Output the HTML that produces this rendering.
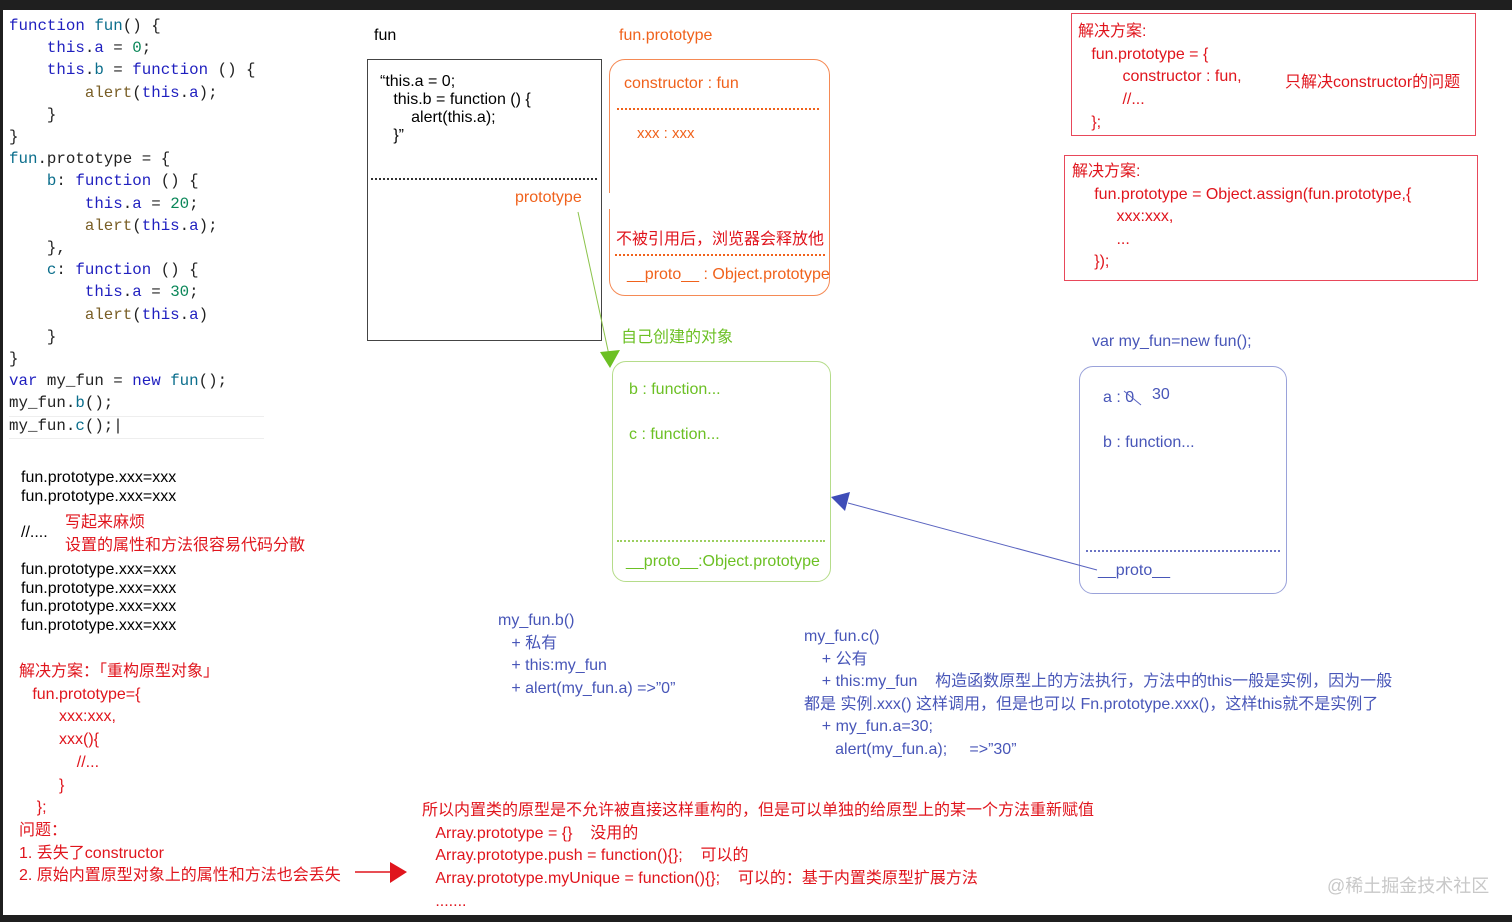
<!DOCTYPE html>
<html><head><meta charset="utf-8"><style>
body{margin:0;width:1512px;height:922px;background:#fff;position:relative;overflow:hidden;font-family:"Liberation Sans","Noto Sans CJK SC",sans-serif;font-size:16px;}
.t{position:absolute;white-space:pre;line-height:18px;}
.code{position:absolute;left:9px;top:15px;font-family:"Liberation Mono",monospace;font-size:15.8px;line-height:22.2px;white-space:pre;color:#222;}
.k{color:#1f1fbf}.f{color:#0b6e8c}.n{color:#098658}.a{color:#795e26}
.red{color:#e0151d}.or{color:#f0621c}.gr{color:#6cc024}.bl{color:#4856b8}
.box{position:absolute;box-sizing:border-box;}
</style></head><body>
<div style="position:absolute;left:0;top:0;width:1512px;height:10px;background:#1f1f1f"></div>
<div style="position:absolute;left:0;top:915px;width:1512px;height:7px;background:#1f1f1f"></div>
<div style="position:absolute;left:0;top:0;width:3px;height:922px;background:#1f1f1f"></div>

<div class="code"><span class="k">function</span> <span class="f">fun</span>() {
    <span class="k">this</span>.<span class="k">a</span> = <span class="n">0</span>;
    <span class="k">this</span>.<span class="f">b</span> = <span class="k">function</span> () {
        <span class="a">alert</span>(<span class="k">this</span>.<span class="k">a</span>);
    }
}
<span class="f">fun</span>.prototype = {
    <span class="f">b</span>: <span class="k">function</span> () {
        <span class="k">this</span>.<span class="k">a</span> = <span class="n">20</span>;
        <span class="a">alert</span>(<span class="k">this</span>.<span class="k">a</span>);
    },
    <span class="f">c</span>: <span class="k">function</span> () {
        <span class="k">this</span>.<span class="k">a</span> = <span class="n">30</span>;
        <span class="a">alert</span>(<span class="k">this</span>.<span class="k">a</span>)
    }
}
<span class="k">var</span> my_fun = <span class="k">new</span> <span class="f">fun</span>();
my_fun.<span class="f">b</span>();
my_fun.<span class="f">c</span>();|</div>
<div style="position:absolute;left:9px;top:416px;width:255px;height:21px;border-top:1px solid #eee;border-bottom:1px solid #eee"></div>

<!-- fun box -->
<div class="t" style="left:374px;top:27px">fun</div>
<div class="box" style="left:367px;top:59px;width:235px;height:282px;border:1px solid #444"></div>
<div style="position:absolute;left:371px;top:178px;width:226px;border-top:2px dotted #333"></div>
<div class="t" style="left:380px;top:73px">“this.a = 0;
   this.b = function () {
       alert(this.a);
   }”</div>
<div class="t or" style="left:515px;top:189px;background:#fff">prototype</div>

<!-- fun.prototype box -->
<div class="t or" style="left:619px;top:27px">fun.prototype</div>
<div class="box" style="left:609px;top:59px;width:221px;height:237px;border:1px solid #f58a55;border-radius:16px"></div>
<div style="position:absolute;left:603px;top:193px;width:12px;height:16px;background:#fff"></div>
<div class="t or" style="left:624px;top:75px">constructor : fun</div>
<div style="position:absolute;left:617px;top:108px;width:202px;border-top:2px dotted #f0621c"></div>
<div class="t or" style="left:637px;top:125px;font-size:15px">xxx : xxx</div>
<div class="t red" style="left:616px;top:231px">不被引用后，浏览器会释放他</div>
<div style="position:absolute;left:615px;top:254px;width:210px;border-top:2px dotted #f0621c"></div>
<div class="t or" style="left:627px;top:266px;font-size:16px">__proto__ : Object.prototype</div>

<!-- green -->
<div class="t gr" style="left:621px;top:329px">自己创建的对象</div>
<div class="box" style="left:612px;top:361px;width:219px;height:221px;border:1px solid #b5dc8a;border-radius:14px"></div>
<div class="t gr" style="left:629px;top:381px">b : function...</div>
<div class="t gr" style="left:629px;top:426px">c : function...</div>
<div style="position:absolute;left:617px;top:540px;width:208px;border-top:2px dotted #9ccf60"></div>
<div class="t gr" style="left:626px;top:553px">__proto__:Object.prototype</div>

<!-- blue instance -->
<div class="t bl" style="left:1092px;top:333px">var my_fun=new fun();</div>
<div class="box" style="left:1079px;top:366px;width:208px;height:228px;border:1px solid #9aa2da;border-radius:14px"></div>
<div class="t bl" style="left:1103px;top:389px">a : 0</div>
<div class="t bl" style="left:1152px;top:386px">30</div>
<div class="t bl" style="left:1103px;top:434px">b : function...</div>
<div style="position:absolute;left:1086px;top:550px;width:194px;border-top:2px dotted #6b74c4"></div>
<div class="t bl" style="left:1098px;top:562px">__proto__</div>

<svg style="position:absolute;left:0;top:0" width="1512" height="922">
 <line x1="578" y1="212" x2="609" y2="355" stroke="#8bc34a" stroke-width="1"/>
 <polygon points="600,352 620,350 610,368" fill="#6cc024"/>
 <line x1="1097" y1="570" x2="848" y2="503" stroke="#5a64c0" stroke-width="1"/>
 <polygon points="831,497 850,492 845,511" fill="#3f4db8"/>
 <line x1="1124" y1="391" x2="1141" y2="405" stroke="#5a64c0" stroke-width="1"/>
 <line x1="355" y1="872" x2="392" y2="872" stroke="#e0151d" stroke-width="1.5"/>
 <polygon points="390,862 407,872 390,883" fill="#e0151d"/>
</svg>

<!-- right red boxes -->
<div class="box" style="left:1071px;top:13px;width:405px;height:123px;border:1px solid #e8485a"></div>
<div class="t red" style="left:1078px;top:21px;line-height:22.7px">解决方案:
   fun.prototype = {
          constructor : fun,
          //...
   };</div>
<div class="t red" style="left:1285px;top:74px">只解决constructor的问题</div>
<div class="box" style="left:1064px;top:155px;width:414px;height:126px;border:1px solid #e8485a"></div>
<div class="t red" style="left:1072px;top:161px;line-height:22.5px">解决方案:
     fun.prototype = Object.assign(fun.prototype,{
          xxx:xxx,
          ...
     });</div>

<!-- left bottom -->
<div class="t" style="left:21px;top:468px;line-height:19px">fun.prototype.xxx=xxx
fun.prototype.xxx=xxx</div>
<div class="t" style="left:21px;top:524px">//....</div>
<div class="t red" style="left:65px;top:511px;line-height:23px">写起来麻烦
设置的属性和方法很容易代码分散</div>
<div class="t" style="left:21px;top:561px;line-height:18.7px">fun.prototype.xxx=xxx
fun.prototype.xxx=xxx
fun.prototype.xxx=xxx
fun.prototype.xxx=xxx</div>
<div class="t red" style="left:19px;top:661px;line-height:22.7px">解决方案：「重构原型对象」
   fun.prototype={
         xxx:xxx,
         xxx(){
             //...
         }
    };
问题：
1. 丢失了constructor
2. 原始内置原型对象上的属性和方法也会丢失</div>

<div class="t bl" style="left:498px;top:610px;line-height:22.5px">my_fun.b()
   + 私有
   + this:my_fun
   + alert(my_fun.a) =>”0”</div>
<div class="t bl" style="left:804px;top:626px;line-height:22.5px">my_fun.c()
    + 公有
    + this:my_fun    构造函数原型上的方法执行，方法中的this一般是实例，因为一般
都是 实例.xxx() 这样调用，但是也可以 Fn.prototype.xxx()，这样this就不是实例了
    + my_fun.a=30;
       alert(my_fun.a);     =>”30”</div>

<div class="t red" style="left:422px;top:800px;line-height:22.7px">所以内置类的原型是不允许被直接这样重构的，但是可以单独的给原型上的某一个方法重新赋值
   Array.prototype = {}    没用的
   Array.prototype.push = function(){};    可以的
   Array.prototype.myUnique = function(){};    可以的：基于内置类原型扩展方法
   .......</div>
<div class="t" style="left:1327px;top:877px;color:#c8c8c8;font-size:18px">@稀土掘金技术社区</div>
</body></html>
